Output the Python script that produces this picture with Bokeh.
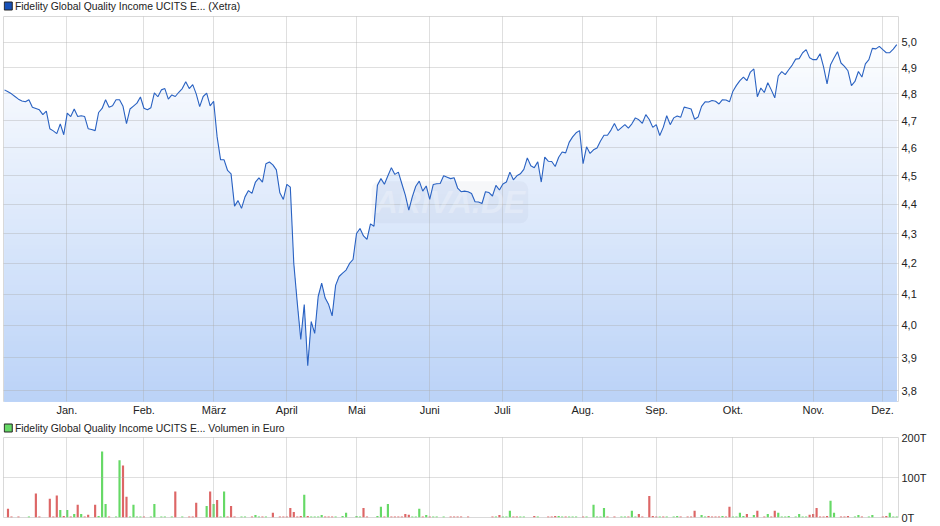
from math import exp, log
from bokeh.plotting import figure
from bokeh.layouts import column
from bokeh.core.properties import value
from bokeh.models import (FixedTicker, CustomJSTickFormatter, Label, Range1d)
from bokeh.embed import file_html
from bokeh.resources import INLINE

title_price = "Fidelity Global Quality Income UCITS E... (Xetra)"
title_volume = "Fidelity Global Quality Income UCITS E... Volumen in Euro"

prices_jan_mar = [4.815,4.808,4.80,4.79,4.78,4.773,4.77,4.778,4.75,4.745,4.74,4.722,4.735,4.67,4.662,4.652,
    4.688,4.648,4.728,4.715,4.743,4.715,4.718,4.715,4.67,4.667,4.663,4.73,4.745,4.778,4.75,4.755,4.778,4.778,
    4.753,4.689,4.743,4.754,4.765,4.788,4.746,4.74,4.748,4.804,4.789,4.815,4.82,4.78,4.796,4.79,4.806,4.82,
    4.846,4.82,4.835,4.80,4.752,4.79,4.803,4.755,4.772,4.64]
prices_mar_jul = [4.557,4.557,4.519,4.507,4.394,4.413,4.386,4.426,4.448,4.438,4.478,4.493,4.478,4.543,4.549,
    4.539,4.521,4.44,4.417,4.47,4.46,4.2,4.071,3.956,4.066,3.875,4.012,3.975,4.092,4.135,4.087,4.066,4.03,
    4.128,4.157,4.168,4.178,4.2,4.213,4.3,4.317,4.292,4.28,4.333,4.325,4.467,4.49,4.47,4.50,4.529,4.505,4.513,
    4.472,4.432,4.38,4.426,4.463,4.481,4.446,4.464,4.417,4.469,4.472,4.473,4.50,4.495,4.49,4.493,4.457,4.444,
    4.446,4.444,4.438,4.409,4.408,4.403,4.444,4.441,4.429,4.466,4.45,4.471,4.478,4.513,4.486,4.50,4.507]
prices_jul_dec = [4.523,4.564,4.536,4.529,4.55,4.478,4.567,4.552,4.551,4.533,4.566,4.585,4.582,4.62,4.64,4.655,
    4.663,4.543,4.604,4.58,4.593,4.60,4.625,4.646,4.646,4.665,4.689,4.663,4.674,4.685,4.672,4.688,4.71,4.703,
    4.69,4.722,4.704,4.675,4.685,4.645,4.675,4.718,4.685,4.71,4.717,4.712,4.75,4.747,4.743,4.705,4.713,4.753,
    4.77,4.769,4.775,4.772,4.762,4.778,4.777,4.77,4.81,4.832,4.85,4.864,4.85,4.883,4.895,4.789,4.822,4.805,
    4.842,4.815,4.785,4.868,4.885,4.873,4.892,4.91,4.933,4.935,4.958,4.97,4.938,4.931,4.931,4.954,4.903,4.838,
    4.911,4.937,4.962,4.918,4.905,4.888,4.831,4.847,4.885,4.864,4.915,4.931,4.975,4.973,4.983,4.97,4.958,4.958,
    4.972,4.99]
prices = prices_jan_mar + prices_mar_jul + prices_jul_dec
days = list(range(len(prices)))

month_days = [17.9, 40, 60.1, 81, 101.1, 122, 142.9, 165.9, 187.1, 209, 232.1, 251.9]
month_labels = ["Jan.", "Feb.", "März", "April", "Mai", "Juni", "Juli", "Aug.", "Sep.", "Okt.", "Nov.", "Dez."]
price_ticks = [3.8, 3.9, 4.0, 4.1, 4.2, 4.3, 4.4, 4.5, 4.6, 4.7, 4.8, 4.9, 5.0]
volume_ticks = [0, 100, 200]

green_days = [7,16,18,20,22,27,28,29,32,33,36,37,38,39,42,43,45,46,48,51,58,60,62,63,68,69,72,73,75,86,88,89,90,
    91,95,97,98,101,102,107,108,110,117,118,119,121,123,124,126,141,143,144,145,148,149,153,159,160,162,163,164,
    167,169,170,171,172,177,178,180,181,188,190,192,193,200,201,206,209,210,211,212,215,219,222,223,224,225,227,
    228,229,230,237,238,244,245,248,249,254,255,256]
green_vals = [2.5,19,19,9,9,4,165,34,2.5,143,2.5,32,2.5,2.5,2.5,34,2.5,2.5,2.5,2.5,29,34,2.5,65,2.5,2.5,6,2.5,2.5,
    57,2.5,2.5,2.5,6,2.5,4,12,4,2.5,4,27,34,2.5,2.5,22,6,2.5,2.5,2.5,2.5,2.5,2.5,17,2.5,2.5,2.5,4,2.5,2.5,2.5,2.5,
    2.5,32,2.5,2.5,24,2.5,2.5,17,2.5,2.5,2.5,2.5,4,6,2.5,4,2.5,2.5,12,4,6,9,12,2.5,2.5,4,2.5,9,2.5,2.5,42,12,2.5,
    6,2.5,6,12,2.5,2.5]
red_days = [1,2,4,9,10,13,14,15,17,19,21,23,24,26,30,34,35,40,49,53,54,55,59,61,64,65,66,71,74,77,79,80,81,82,83,
    84,85,87,92,93,94,103,104,109,111,112,113,114,115,116,120,122,128,129,130,131,133,140,142,146,147,152,156,157,
    158,161,166,173,175,179,182,183,185,186,187,189,194,196,197,198,202,203,204,205,207,208,213,216,218,220,221,
    231,232,233,234,235,236,240,241,242,246,252,253]
red_vals = [22,2.5,2.5,60,2.5,47,2.5,55,4,2.5,32,2.5,7,32,2.5,130,52,2.5,65,2.5,2.5,37,65,44,2.5,29,2.5,2.5,2.5,12,
    2.5,2.5,2.5,24,14,2.5,4,4,2.5,2.5,2.5,24,2.5,2.5,2.5,2.5,2.5,2.5,9,7,2.5,2.5,2.5,2.5,2.5,2.5,2.5,2.5,6,2.5,2.5,4,
    2.5,2.5,4,2.5,2.5,2.5,2.5,2.5,9,2.5,54,4,2.5,2.5,2.5,2.5,2.5,17,4,2.5,2.5,2.5,2.5,27,9,17,2.5,2.5,17,7,9,24,2.5,
    2.5,4,2.5,2.5,4,2.5,2.5,4]

FONT = "Liberation Sans"
GRID = "#aaaaaa"
GRID_ALPHA = 0.38
X_START, X_END = -0.29, 256.5

x_range = Range1d(X_START, X_END)
PX_PER_LOG = 1270.0
Y_TOP = 5.0 * exp((41.5 - 16) / PX_PER_LOG)
Y_BOTTOM = 5.0 * exp(-(401 - 41.5) / PX_PER_LOG)

def style_common(p):
    p.outline_line_color = "#d9d9d9"
    p.outline_line_width = 1
    p.background_fill_color = "white"
    p.border_fill_color = "white"
    p.xgrid.ticker = FixedTicker(ticks=month_days)
    p.xgrid.grid_line_color = GRID
    p.xgrid.grid_line_alpha = GRID_ALPHA
    p.ygrid.grid_line_color = GRID
    p.ygrid.grid_line_alpha = GRID_ALPHA
    p.xgrid.level = "annotation"
    p.ygrid.level = "annotation"
    a = p.yaxis[0]
    a.axis_line_color = None
    a.major_tick_line_color = None
    a.minor_tick_line_color = None
    a.major_tick_out = 0
    a.major_tick_in = 0
    a.major_label_text_font = FONT
    a.major_label_text_font_size = "11px"
    a.major_label_text_color = "#222222"
    a.major_label_standoff = 3

def heading(color, text, height, center):
    s = figure(width=940, height=height, output_backend="svg", toolbar_location=None,
               x_range=Range1d(0, 940), y_range=Range1d(height, 0),
               x_axis_location=None, y_axis_location=None,
               min_border_left=0, min_border_right=0, min_border_top=0, min_border_bottom=0)
    s.grid.visible = False
    s.outline_line_color = None
    s.scatter(x=[5], y=[center], marker="square", size=8, fill_color=color, line_color="#222222", line_width=1)
    s.text(x=[12], y=[center], text=[text], text_baseline="middle", text_font=value(FONT),
           text_font_size="10.4px", text_color="#222222")
    return s

# ---- price panel
s1 = heading("#1650b8", title_price, 15, 5.5)
p1 = figure(width=940, height=403, output_backend="svg", toolbar_location=None, x_range=x_range,
            y_range=Range1d(Y_BOTTOM, Y_TOP), y_axis_type="log", y_axis_location="right",
            min_border_left=3, min_border_right=42, min_border_top=1, min_border_bottom=17)
style_common(p1)
p1.yaxis[0].ticker = FixedTicker(ticks=price_ticks)
p1.yaxis[0].formatter = CustomJSTickFormatter(code="return tick.toFixed(1).replace('.', ',')")
p1.ygrid.ticker = FixedTicker(ticks=price_ticks)
xa = p1.xaxis[0]
xa.ticker = FixedTicker(ticks=month_days)
xa.major_label_overrides = dict(zip(month_days, month_labels))
xa.axis_line_color = None
xa.major_tick_line_color = None
xa.minor_tick_line_color = None
xa.major_tick_out = 0
xa.major_tick_in = 0
xa.major_label_text_font = FONT
xa.major_label_text_font_size = "11px"
xa.major_label_text_color = "#222222"
xa.major_label_standoff = 2

# gradient: stacked areas, painted from the lightest (top) downwards
N_BANDS = 77
for k in range(N_BANDS):
    py = 16 + (401 - 16) * k / (N_BANDS - 1)
    level = 5.0 * exp((41.5 - py) / PX_PER_LOG)
    t = max(0.0, (py - 30) / (401 - 30))
    col = "#%02x%02x%02x" % (round(255 - t * 69), round(255 - t * 45), round(255 - t * 8))
    p1.varea(x=days, y1=[Y_BOTTOM] * len(days), y2=[min(v, level) for v in prices], fill_color=col)

p1.line(days, prices, line_color="#2a62c2", line_width=1.1, level="overlay")

wm = Label(x=127.8, y=4.407, text="ARIVA.DE", text_align="center", text_baseline="middle",
           text_font=FONT, text_font_style="bold italic", text_font_size="32px",
           text_color="white", text_alpha=0.25, background_fill_color="#8090b0", background_fill_alpha=0.07,
           border_radius=8, padding=3, level="annotation")
p1.add_layout(wm)

# ---- volume panel
s2 = heading("#66d966", title_volume, 18, 9.5)
p2 = figure(width=940, height=96, output_backend="svg", toolbar_location=None, x_range=x_range,
            y_range=Range1d(0, 200), x_axis_location=None, y_axis_location="right",
            min_border_left=3, min_border_right=42, min_border_top=7, min_border_bottom=9,
            margin=(-6, 0, 0, 0))
style_common(p2)
p2.border_fill_alpha = 0
p2.yaxis[0].ticker = FixedTicker(ticks=volume_ticks)
p2.yaxis[0].major_label_overrides = {v: f"{v}T" for v in volume_ticks}
p2.ygrid.ticker = FixedTicker(ticks=volume_ticks)
p2.vbar(x=green_days, top=green_vals, width=0.62, fill_color="#66d966", line_color=None)
p2.vbar(x=red_days, top=red_vals, width=0.62, fill_color="#dd6666", line_color=None)

root = column(s1, p1, s2, p2, spacing=0)
open("out.html", "w").write(file_html(root, INLINE))
